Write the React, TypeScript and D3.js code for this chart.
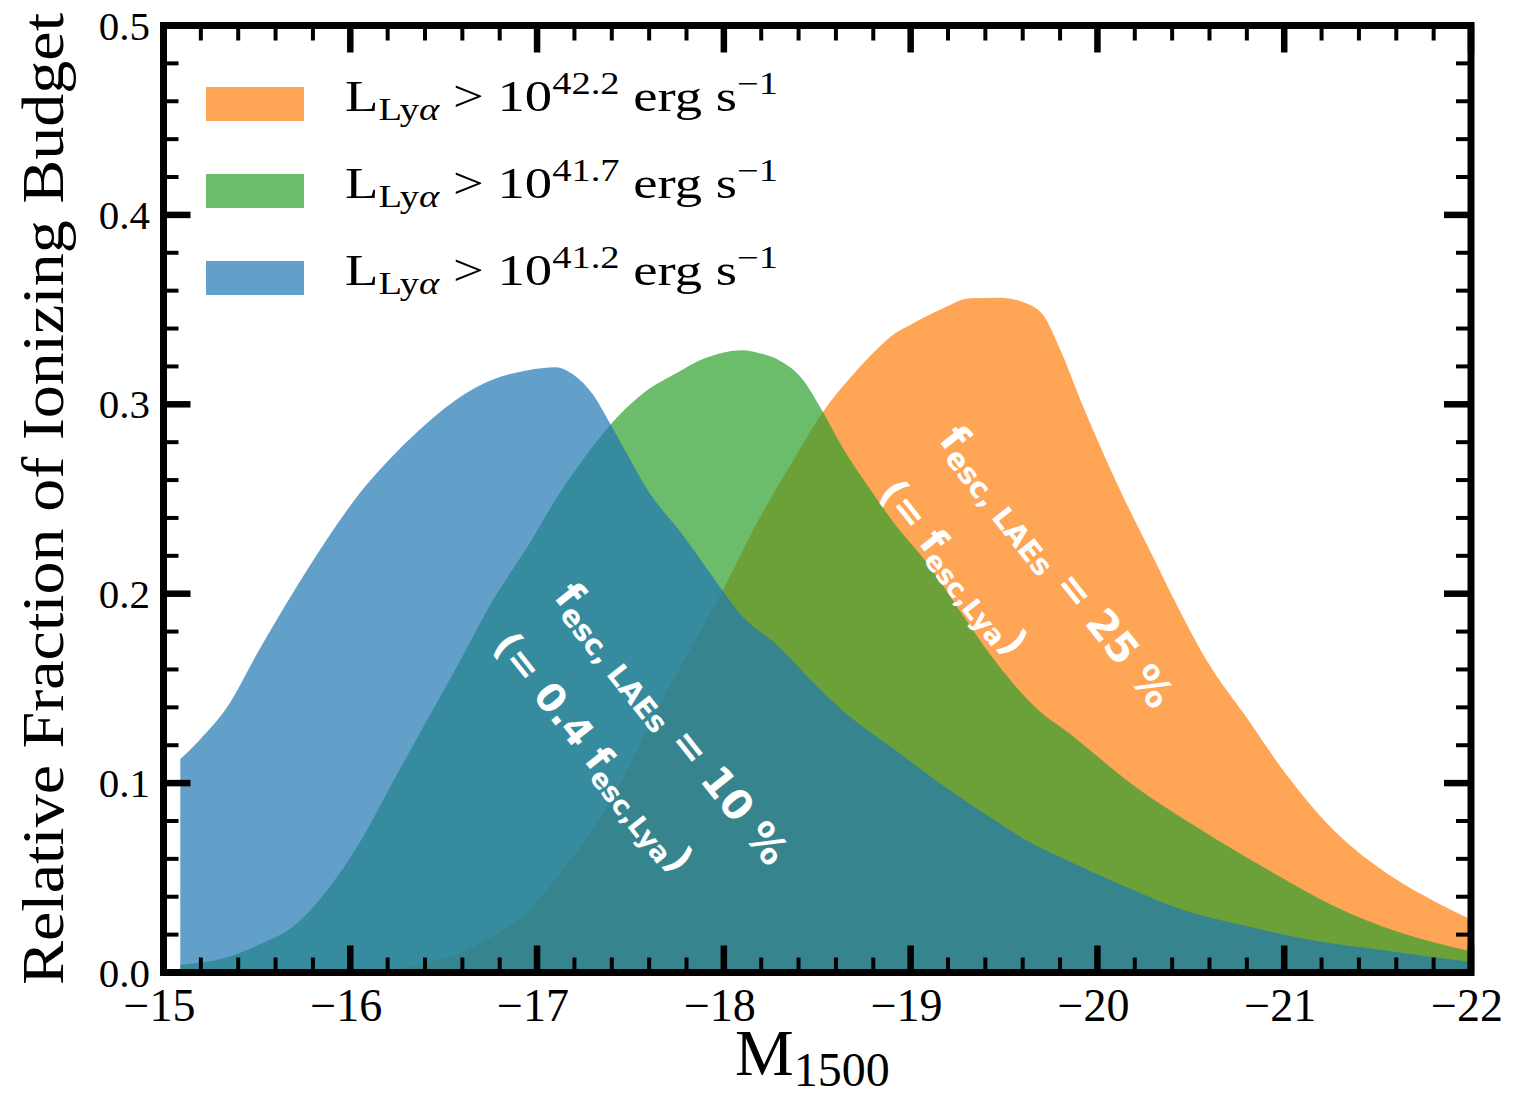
import React from 'react'
import * as d3 from 'd3'

// readings, M1500 vs relative fraction
const orangeMag = [-15.09, -15.87, -16.23, -16.41, -16.59, -16.76, -16.95, -17.12, -17.3, -17.48, -17.66, -17.83, -18.0, -18.19, -18.37, -18.53, -18.69, -18.84, -18.91, -19.0, -19.16, -19.32, -19.48, -19.6, -19.71, -19.8, -19.91, -20.11, -20.3, -20.41, -20.59, -20.8, -21.0, -21.26, -21.59, -21.8, -22.0]
const orangeFrac = [0.0003, 0.0008, 0.0017, 0.005, 0.0104, 0.019, 0.032, 0.052, 0.076, 0.106, 0.142, 0.1725, 0.203, 0.2397, 0.27, 0.296, 0.3155, 0.331, 0.337, 0.342, 0.35, 0.356, 0.3563, 0.354, 0.347, 0.329, 0.302, 0.257, 0.219, 0.197, 0.164, 0.1345, 0.106, 0.0756, 0.0497, 0.0378, 0.028]

const greenMag = [-15.09, -15.34, -15.51, -15.69, -15.87, -16.05, -16.23, -16.41, -16.59, -16.76, -16.95, -17.12, -17.3, -17.39, -17.57, -17.75, -17.89, -18.0, -18.1, -18.19, -18.3, -18.41, -18.53, -18.64, -18.77, -18.91, -19.09, -19.27, -19.44, -19.69, -19.84, -20.19, -20.55, -20.91, -21.26, -21.62, -22.0]
const greenFrac = [0.004, 0.008, 0.0147, 0.024, 0.0427, 0.0686, 0.101, 0.133, 0.165, 0.196, 0.225, 0.253, 0.278, 0.289, 0.306, 0.3166, 0.324, 0.3274, 0.3285, 0.327, 0.323, 0.3145, 0.296, 0.2764, 0.257, 0.2375, 0.2159, 0.19, 0.166, 0.138, 0.127, 0.099, 0.0756, 0.0544, 0.0354, 0.0211, 0.0112]

const blueMag = [-15.09, -15.19, -15.34, -15.51, -15.69, -15.87, -16.05, -16.23, -16.41, -16.59, -16.76, -16.95, -17.1, -17.19, -17.3, -17.39, -17.48, -17.59, -17.78, -17.94, -18.1, -18.29, -18.46, -18.64, -18.91, -19.17, -19.44, -19.69, -19.8, -20.11, -20.46, -20.82, -21.18, -21.53, -22.0]
const blueFrac = [0.1127, 0.1224, 0.14, 0.17, 0.2, 0.228, 0.253, 0.273, 0.29, 0.304, 0.313, 0.318, 0.3196, 0.316, 0.305, 0.29, 0.274, 0.255, 0.231, 0.209, 0.188, 0.1725, 0.155, 0.138, 0.118, 0.099, 0.081, 0.066, 0.061, 0.047, 0.033, 0.024, 0.0165, 0.0118, 0.0055]

const xTickVals = [-15, -16, -17, -18, -19, -20, -21, -22]
const yTickVals = [0, 0.1, 0.2, 0.3, 0.4, 0.5]
const legendExps = ['42.2', '41.7', '41.2']
const legendColors = ['#ff7f0e', '#2ca02c', '#1f77b4']

function App() {
	const width = 1514, height = 1096
	const serif = '"Liberation Serif", "Times New Roman", serif'
	const sans = '"DejaVu Sans", sans-serif'
	const left = 163.5, right = 1471, top = 25.5, bottom = 972.5

	const x = d3.scaleLinear().domain([-15, -22]).range([left, right])
	const y = d3.scaleLinear().domain([0, 0.5]).range([bottom, top])

	const area = d3.area()
		.x(d => x(d[0]))
		.y0(y(0))
		.y1(d => y(d[1]))
		.curve(d3.curveMonotoneX)

	const series = [
		{mags: orangeMag, fracs: orangeFrac, color: legendColors[0]},
		{mags: greenMag, fracs: greenFrac, color: legendColors[1]},
		{mags: blueMag, fracs: blueFrac, color: legendColors[2]},
	]

	const xMinor = d3.range(-15, -22.01, -0.2).filter(v => Math.abs(v - Math.round(v)) > 0.01)
	const yMinor = d3.range(0, 0.501, 0.02).filter(v => Math.abs(v * 10 - Math.round(v * 10)) > 0.01)

	const tickLines = []
	xTickVals.forEach((v, i) => {
		tickLines.push(<line key={`xb${i}`} x1={x(v)} x2={x(v)} y1={bottom} y2={bottom - 27} stroke="#000" strokeWidth={6.5} />)
		tickLines.push(<line key={`xt${i}`} x1={x(v)} x2={x(v)} y1={top} y2={top + 27} stroke="#000" strokeWidth={6.5} />)
	})
	xMinor.forEach((v, i) => {
		tickLines.push(<line key={`xbm${i}`} x1={x(v)} x2={x(v)} y1={bottom} y2={bottom - 15} stroke="#000" strokeWidth={4} />)
		tickLines.push(<line key={`xtm${i}`} x1={x(v)} x2={x(v)} y1={top} y2={top + 15} stroke="#000" strokeWidth={4} />)
	})
	yTickVals.forEach((v, i) => {
		tickLines.push(<line key={`yl${i}`} x1={left} x2={left + 27} y1={y(v)} y2={y(v)} stroke="#000" strokeWidth={6.5} />)
		tickLines.push(<line key={`yr${i}`} x1={right} x2={right - 27} y1={y(v)} y2={y(v)} stroke="#000" strokeWidth={6.5} />)
	})
	yMinor.forEach((v, i) => {
		tickLines.push(<line key={`ylm${i}`} x1={left} x2={left + 15} y1={y(v)} y2={y(v)} stroke="#000" strokeWidth={4} />)
		tickLines.push(<line key={`yrm${i}`} x1={right} x2={right - 15} y1={y(v)} y2={y(v)} stroke="#000" strokeWidth={4} />)
	})

	return (
		<svg width={width} height={height} viewBox={`0 0 ${width} ${height}`} style={{position: 'absolute', left: 0, top: 0, background: '#fff'}}>
			<g className="areas">
				{series.map((s, i) => (
					<path
						key={`area-${i}`}
						d={area(s.mags.map((m, j) => [m, s.fracs[j]])) || ''}
						fill={s.color}
						fillOpacity={0.7}
					/>
				))}
			</g>

			<g className="notes" fill="#fff" fontFamily={sans} fontWeight="bold">
				<text transform="translate(553,597) rotate(51.5)" fontSize={41}>
					<tspan>f</tspan>
					<tspan fontSize={29} dy={7}>esc, LAEs</tspan>
					<tspan dy={-7}>{' = 10 %'}</tspan>
				</text>
				<text transform="translate(553,597) rotate(51.5) translate(0,78)" fontSize={39}>
					<tspan>(= 0.4 f</tspan>
					<tspan fontSize={27} dy={7}>esc,Lya</tspan>
					<tspan dy={-7}>)</tspan>
				</text>
				<text transform="translate(938,440) rotate(51.5)" fontSize={41}>
					<tspan>f</tspan>
					<tspan fontSize={29} dy={7}>esc, LAEs</tspan>
					<tspan dy={-7}>{' = 25 %'}</tspan>
				</text>
				<text transform="translate(938,440) rotate(51.5) translate(4,80)" fontSize={39}>
					<tspan>(= f</tspan>
					<tspan fontSize={27} dy={7}>esc,Lya</tspan>
					<tspan dy={-7}>)</tspan>
				</text>
			</g>

			<g className="ticks">{tickLines}</g>
			<rect x={left} y={top} width={right - left} height={bottom - top} fill="none" stroke="#000" strokeWidth={7} />

			<g className="xlabels" fontFamily={serif} fontSize={46} textAnchor="middle">
				{xTickVals.map((v, i) => (
					<text key={`xl-${i}`} x={x(v) - 4} y={1021}>{`\u2212${Math.abs(v)}`}</text>
				))}
			</g>
			<g className="ylabels" fontFamily={serif} fontSize={41} textAnchor="end">
				{yTickVals.map((v, i) => (
					<text key={`yl-${i}`} x={150} y={y(v) + 14}>{v.toFixed(1)}</text>
				))}
			</g>

			<text x={735} y={1075} fontFamily={serif} fontSize={66}>
				M<tspan fontSize={48} dy={11}>1500</tspan>
			</text>
			<text transform="translate(63,499) rotate(-90)" fontFamily={serif} fontSize={60} textAnchor="middle"
				textLength={972} lengthAdjust="spacingAndGlyphs">
				Relative Fraction of Ionizing Budget
			</text>

			<g className="legend" fontFamily={serif}>
				{legendExps.map((e, i) => {
					const yy = 104 + i * 87
					return (
						<g key={`leg-${i}`}>
							<rect x={206} y={yy - 17} width={98} height={34} fill={legendColors[i]} fillOpacity={0.7} />
							<text x={345} y={yy + 7} fontSize={44} textLength={433} lengthAdjust="spacingAndGlyphs">
								<tspan>L</tspan>
								<tspan fontSize={31} dy={9}>Ly</tspan>
								<tspan fontSize={31} fontStyle="italic">α</tspan>
								<tspan dy={-9}>{' > 10'}</tspan>
								<tspan fontSize={31} dy={-17}>{e}</tspan>
								<tspan dy={17}>{' erg s'}</tspan>
								<tspan fontSize={31} dy={-17}>{'\u22121'}</tspan>
							</text>
						</g>
					)
				})}
			</g>
		</svg>
	)
}

export default App
